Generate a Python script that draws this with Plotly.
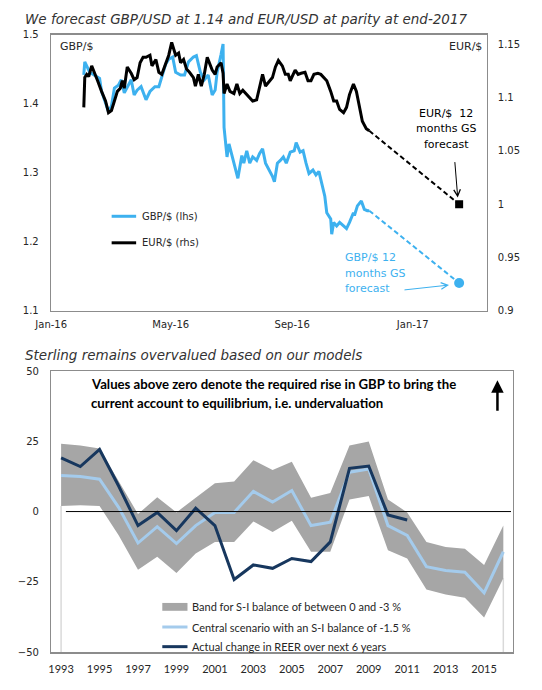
import plotly.graph_objects as go

W, H = 542, 690
def px(x): return x / W
def py(y): return 1 - y / H

# ---------------- Top chart data ----------------
gbp_dates = [
    "2016-02-03","2016-02-04","2016-02-09","2016-02-14","2016-02-19","2016-02-21","2016-02-25","2016-02-28",
    "2016-03-02","2016-03-05","2016-03-09","2016-03-12","2016-03-15","2016-03-18","2016-03-22","2016-03-25","2016-03-28",
    "2016-04-01","2016-04-06","2016-04-10","2016-04-15","2016-04-19","2016-04-23","2016-04-26","2016-04-29",
    "2016-05-03","2016-05-06","2016-05-11","2016-05-15","2016-05-19","2016-05-24","2016-05-27","2016-05-31",
    "2016-06-04","2016-06-08","2016-06-12","2016-06-15","2016-06-17","2016-06-21","2016-06-23","2016-06-24","2016-06-27","2016-06-29",
    "2016-07-03","2016-07-06","2016-07-08","2016-07-12","2016-07-14","2016-07-17","2016-07-20","2016-07-23","2016-07-27","2016-07-30",
    "2016-08-02","2016-08-05","2016-08-09","2016-08-12","2016-08-14","2016-08-17","2016-08-20","2016-08-23","2016-08-26","2016-08-30",
    "2016-09-03","2016-09-05","2016-09-09","2016-09-12","2016-09-15","2016-09-18","2016-09-22","2016-09-25","2016-09-28",
    "2016-10-01","2016-10-04","2016-10-06","2016-10-10","2016-10-11","2016-10-13","2016-10-16","2016-10-19","2016-10-23","2016-10-26","2016-10-29",
    "2016-11-02","2016-11-03","2016-11-06","2016-11-10","2016-11-13","2016-11-16","2016-11-18",
]
gbp_vals = [
    1.442,1.461,1.446,1.442,1.437,1.418,1.401,1.389,
    1.397,1.423,1.427,1.435,1.416,1.425,1.435,1.413,1.420,
    1.425,1.406,1.418,1.425,1.425,1.442,1.458,1.465,
    1.468,1.446,1.442,1.442,1.461,1.468,1.470,1.446,
    1.435,1.442,1.413,1.420,1.446,1.472,1.487,1.366,1.323,1.342,
    1.321,1.304,1.292,1.325,1.314,1.332,1.314,1.323,1.318,1.328,
    1.335,1.314,1.304,1.295,1.287,1.314,1.318,1.323,1.314,1.330,
    1.332,1.344,1.330,1.332,1.314,1.299,1.304,1.297,1.302,
    1.285,1.266,1.242,1.233,1.211,1.228,1.223,1.228,1.223,1.219,1.228,
    1.242,1.238,1.252,1.259,1.247,1.245,1.245,
]
eur_dates = [
    "2016-02-03","2016-02-04","2016-02-06","2016-02-08","2016-02-11","2016-02-14","2016-02-17","2016-02-21","2016-02-25","2016-02-28",
    "2016-03-02","2016-03-05","2016-03-08","2016-03-11","2016-03-13","2016-03-15","2016-03-18","2016-03-22","2016-03-25","2016-03-28","2016-03-31",
    "2016-04-03","2016-04-06","2016-04-10","2016-04-12","2016-04-16","2016-04-19","2016-04-22","2016-04-25","2016-04-29",
    "2016-05-02","2016-05-04","2016-05-06","2016-05-09","2016-05-11","2016-05-14","2016-05-17","2016-05-20","2016-05-24","2016-05-26","2016-05-29",
    "2016-06-01","2016-06-04","2016-06-07","2016-06-10","2016-06-12","2016-06-15","2016-06-17","2016-06-21","2016-06-23","2016-06-24","2016-06-27","2016-06-30",
    "2016-07-04","2016-07-07","2016-07-10","2016-07-13","2016-07-17","2016-07-20","2016-07-23","2016-07-27","2016-07-30",
    "2016-08-02","2016-08-05","2016-08-09","2016-08-12","2016-08-15","2016-08-18","2016-08-22","2016-08-25","2016-08-28","2016-08-30",
    "2016-09-04","2016-09-07","2016-09-10","2016-09-14","2016-09-17","2016-09-20","2016-09-23","2016-09-27","2016-09-30",
    "2016-10-03","2016-10-06","2016-10-10","2016-10-13","2016-10-16","2016-10-19","2016-10-23","2016-10-26","2016-10-29",
    "2016-11-02","2016-11-05","2016-11-08","2016-11-11","2016-11-15","2016-11-18",
]
eur_vals = [
    1.091,1.119,1.122,1.120,1.130,1.122,1.116,1.106,1.097,1.086,
    1.088,1.097,1.106,1.109,1.116,1.109,1.129,1.123,1.117,1.119,1.133,
    1.138,1.138,1.140,1.130,1.136,1.124,1.122,1.129,1.140,
    1.152,1.146,1.140,1.142,1.133,1.136,1.127,1.124,1.119,1.111,1.122,
    1.111,1.122,1.138,1.130,1.126,1.122,1.129,1.133,1.123,1.104,1.113,1.106,
    1.104,1.113,1.104,1.107,1.103,1.101,1.097,1.098,1.109,
    1.122,1.111,1.116,1.119,1.129,1.135,1.130,1.122,1.122,1.116,
    1.126,1.122,1.123,1.124,1.116,1.116,1.122,1.123,1.122,
    1.119,1.116,1.106,1.097,1.097,1.089,1.086,1.091,1.103,
    1.113,1.106,1.091,1.078,1.071,1.069,
]
fc_date = "2017-02-17"
gbp_fc = 1.14
eur_fc = 1.00
top_ticks = ["2016-01-01", "2016-05-01", "2016-09-01", "2017-01-01"]
top_ticklabels = ["Jan-16", "May-16", "Sep-16", "Jan-17"]
left_ticks = [1.1, 1.2, 1.3, 1.4, 1.5]
right_ticks = [0.9, 0.95, 1.0, 1.05, 1.1, 1.15]
right_ticklabels = ["0.9", "0.95", "1", "1.05", "1.1", "1.15"]

# ---------------- Bottom chart data ----------------
years = list(range(1993, 2017))
band_hi = [24.1, 23.5, 22.4, 10.7, -0.9, 5.1, -0.3, 4.9, 10.1, 10.7, 18.3, 14.8,
           17.7, 4.9, 6.6, 23.5, 24.9, 4.3, -0.3, -10.8, -12.6, -13.2, -19.0, -5.0]
band_lo = [2.0, 2.2, 2.0, -8.5, -20.7, -16.1, -21.9, -14.9, -10.8, -10.8, -3.5, -7.3,
           -3.3, -14.3, -14.3, 4.3, 5.5, -13.8, -16.7, -27.7, -29.5, -30.7, -37.7, -23.7]
central = [12.8, 12.5, 11.5, 1.4, -11.2, -5.4, -11.4, -5.0, -0.3, -0.3, 7.2, 3.4,
           7.5, -5.0, -3.8, 14.0, 15.1, -5.0, -8.5, -19.6, -21.0, -21.6, -28.9, -14.3]
actual_years = list(range(1993, 2012))
actual = [19.1, 16.0, 22.1, 9.0, -5.0, -0.3, -6.8, 1.2, -5.0, -24.2, -19.0, -20.2,
          -16.7, -17.8, -10.8, 15.4, 16.2, -1.2, -3.0]
bottom_ticks = list(range(1993, 2016, 2))
bottom_yticks = [-50, -25, 0, 25, 50]

# ---------------- Styles ----------------
GBP_C = "#3db1ef"
EUR_C = "#000000"
BAND_C = "#a6a6a6"
CENT_C = "#a4cbec"
ACT_C = "#17375e"
FRAME_C = "#8c8c8c"
TXT = "#262626"
SANS = "DejaVu Sans"

fig = go.Figure()

# Top chart traces
fig.add_trace(go.Scatter(x=gbp_dates, y=gbp_vals, mode="lines",
                         line=dict(color=GBP_C, width=3), xaxis="x", yaxis="y"))
fig.add_trace(go.Scatter(x=[gbp_dates[-1], fc_date], y=[gbp_vals[-1], gbp_fc], mode="lines",
                         line=dict(color=GBP_C, width=2, dash="5px,3px"), xaxis="x", yaxis="y"))
fig.add_trace(go.Scatter(x=[fc_date], y=[gbp_fc], mode="markers",
                         marker=dict(color=GBP_C, size=10, symbol="circle"), xaxis="x", yaxis="y"))
fig.add_trace(go.Scatter(x=eur_dates, y=eur_vals, mode="lines",
                         line=dict(color=EUR_C, width=3), xaxis="x", yaxis="y2"))
fig.add_trace(go.Scatter(x=[eur_dates[-1], fc_date], y=[eur_vals[-1], eur_fc], mode="lines",
                         line=dict(color=EUR_C, width=2, dash="5px,3px"), xaxis="x", yaxis="y2"))
fig.add_trace(go.Scatter(x=[fc_date], y=[eur_fc], mode="markers",
                         marker=dict(color=EUR_C, size=8, symbol="square"), xaxis="x", yaxis="y2"))

# Bottom chart traces
fig.add_trace(go.Scatter(x=[years[0], years[0]], y=[-50, band_lo[0]], mode="lines",
                         line=dict(color="#d9d9d9", width=1.5), xaxis="x3", yaxis="y3"))
fig.add_trace(go.Scatter(x=[years[-1], years[-1]], y=[-50, band_lo[-1]], mode="lines",
                         line=dict(color="#d9d9d9", width=1.5), xaxis="x3", yaxis="y3"))
fig.add_trace(go.Scatter(x=years, y=band_lo, mode="lines", line=dict(width=0, color=BAND_C),
                         xaxis="x3", yaxis="y3"))
fig.add_trace(go.Scatter(x=years, y=band_hi, mode="lines", line=dict(width=0, color=BAND_C),
                         fill="tonexty", fillcolor=BAND_C, xaxis="x3", yaxis="y3"))
fig.add_trace(go.Scatter(x=years, y=central, mode="lines", line=dict(color=CENT_C, width=3),
                         xaxis="x3", yaxis="y3"))
fig.add_trace(go.Scatter(x=actual_years, y=actual, mode="lines", line=dict(color=ACT_C, width=3),
                         xaxis="x3", yaxis="y3"))

tickfont = dict(family=SANS, size=10, color=TXT)

fig.update_layout(
    width=W, height=H,
    margin=dict(l=0, r=0, t=0, b=0),
    paper_bgcolor="white", plot_bgcolor="white",
    showlegend=False,
    hovermode=False,
    xaxis=dict(domain=[px(35.3), px(485)], anchor="y", type="date",
               range=["2016-01-01", "2017-03-17"],
               tickvals=top_ticks, ticktext=top_ticklabels, ticks="",
               showgrid=False, zeroline=False, showline=True, mirror=True,
               linecolor=FRAME_C, linewidth=1.5, tickfont=tickfont, ticklabelstandoff=4),
    yaxis=dict(domain=[py(310), py(29.5)], anchor="x", range=[1.1, 1.5],
               tickvals=left_ticks, tickformat=".1f", ticks="",
               showgrid=False, zeroline=False, showline=True, mirror=True,
               linecolor=FRAME_C, linewidth=1.5, tickfont=tickfont, ticklabelstandoff=9),
    yaxis2=dict(overlaying="y", side="right", anchor="x", range=[0.9, 1.159],
                tickvals=right_ticks, ticktext=right_ticklabels, ticks="",
                showgrid=False, zeroline=False, showline=False,
                tickfont=tickfont, ticklabelstandoff=10),
    xaxis3=dict(domain=[px(35.6), px(512)], anchor="y3", range=[1992.5, 2016.5],
                tickvals=bottom_ticks, ticks="",
                showgrid=False, zeroline=False, showline=True, mirror=True,
                linecolor=FRAME_C, linewidth=1.5,
                tickfont=dict(family="Lato", size=11, color=TXT), ticklabelstandoff=6),
    yaxis3=dict(domain=[py(657.5), py(371.5)], anchor="x3", range=[-50, 50],
                tickvals=bottom_yticks, ticks="",
                showgrid=False, zeroline=False, showline=True, mirror=True,
                linecolor=FRAME_C, linewidth=1.5, tickfont=tickfont, ticklabelstandoff=9),
)

shapes = []
# zero line bottom chart
shapes.append(dict(type="line", xref="x3", yref="y3", x0=1993.25, x1=2016.4, y0=0, y1=0,
                   line=dict(color="black", width=1)))
# top legend samples
shapes.append(dict(type="line", xref="paper", yref="paper", x0=px(97.7), x1=px(123),
                   y0=py(214), y1=py(214), line=dict(color=GBP_C, width=3)))
shapes.append(dict(type="line", xref="paper", yref="paper", x0=px(97.7), x1=px(123),
                   y0=py(241), y1=py(241), line=dict(color=EUR_C, width=3)))
# bottom legend samples
shapes.append(dict(type="rect", xref="paper", yref="paper", x0=px(150), x1=px(176),
                   y0=py(615.5), y1=py(607.5), fillcolor=BAND_C, line=dict(width=0)))
shapes.append(dict(type="line", xref="paper", yref="paper", x0=px(150), x1=px(176),
                   y0=py(632), y1=py(632), line=dict(color=CENT_C, width=3)))
shapes.append(dict(type="line", xref="paper", yref="paper", x0=px(150), x1=px(176),
                   y0=py(652), y1=py(652), line=dict(color=ACT_C, width=3)))
fig.update_layout(shapes=shapes)

def ann(text, x, y, size=10, color=TXT, family=SANS, xanchor="left", yanchor="middle", **kw):
    fig.add_annotation(text=text, x=px(x), y=py(y), xref="paper", yref="paper",
                       xanchor=xanchor, yanchor=yanchor, showarrow=False,
                       font=dict(family=family, size=size, color=color), **kw)

# titles
ann("<i>We forecast GBP/USD at 1.14 and EUR/USD at parity at end-2017</i>", 6, 13, size=13.5, color="#333333")
ann("<i>Sterling remains overvalued based on our models</i>", 6, 355.5, size=13.5, color="#333333")

# top chart labels
ann("GBP/$", 42, 41, size=11, color=TXT)
ann("EUR/$", 482, 41, size=11, color=TXT, xanchor="right")
ann("GBP/$ (lhs)", 127, 214, size=10, color=TXT)
ann("EUR/$ (rhs)", 127, 241, size=10, color=TXT)
for i, t in enumerate(["EUR/$  12", "months GS", "forecast"]):
    ann(t, 443, 109 + 16 * i, size=11, color="#000000", xanchor="center")
for i, t in enumerate(["GBP/$ 12", "months GS", "forecast"]):
    ann(t, 337, 256 + 16 * i, size=11, color=GBP_C, xanchor="left")

# arrows in top chart
fig.add_annotation(x=px(455), y=py(195), xref="paper", yref="paper", text="", showarrow=True,
                   ax=-3, ay=-37, arrowhead=5, arrowsize=1.3, arrowwidth=1, arrowcolor="#000000")
fig.add_annotation(x=px(446), y=py(284), xref="paper", yref="paper", text="", showarrow=True,
                   ax=-46, ay=5, arrowhead=5, arrowsize=1.3, arrowwidth=1, arrowcolor=GBP_C)

# bottom chart text
ann("<b>Values above zero denote the required rise in GBP to bring the</b>", 74, 385, size=13.2,
    color="#000000", family="Lato")
ann("<b>current account to equilibrium, i.e. undervaluation</b>", 74, 404, size=13.2,
    color="#000000", family="Lato")
fig.add_annotation(x=px(496), y=py(381), xref="paper", yref="paper", text="", showarrow=True,
                   ax=0, ay=32, arrowhead=2, arrowsize=1, arrowwidth=2.5, arrowcolor="#000000")

ann("Band for S-I balance of between 0 and -3 %", 179, 611, size=11, color=TXT, family="Lato")
ann("Central scenario with an S-I balance of -1.5 %", 179, 632, size=11, color=TXT, family="Lato")
ann("Actual change in REER over next 6 years", 179, 652, size=11, color=TXT, family="Lato")

fig.write_html("out.html", config={"displayModeBar": False, "staticPlot": True},
               post_script="document.body.style.margin='0px';")
